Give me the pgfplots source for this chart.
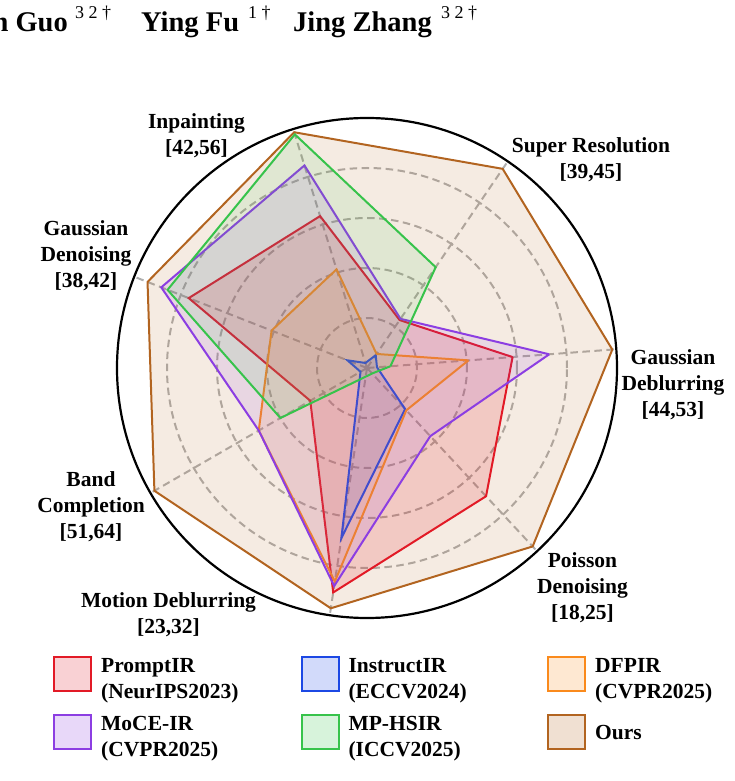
\documentclass[border=0pt]{standalone}
\usepackage{fontspec}
\setmainfont{Liberation Serif}
\usepackage{pgfplots}
\pgfplotsset{compat=1.18}
\usepgfplotslibrary{polar}
\definecolor{cRed}{RGB}{226,26,38}
\definecolor{cBlue}{RGB}{28,72,228}
\definecolor{cOrange}{RGB}{250,138,28}
\definecolor{cPurple}{RGB}{140,62,226}
\definecolor{cGreen}{RGB}{55,195,75}
\definecolor{cBrown}{RGB}{178,100,32}
\definecolor{cGrid}{RGB}{175,175,175}
\begin{document}
\begin{tikzpicture}
\useasboundingbox (0,0) rectangle (735bp,781bp);
\begin{polaraxis}[
  at={(367bp,413bp)}, anchor=origin,
  scale only axis, width=500bp, height=500bp,
  ymin=0, ymax=1,
  xtick={4.30,55.73,107.16,158.59,210.01,261.44,312.87},
  xticklabels={},
  ytick={0.2,0.4,0.6,0.8},
  yticklabels={},
  xmajorgrids, ymajorgrids,
  major grid style={cGrid, line width=2bp, dash pattern=on 7.5bp off 4.5bp},
  x axis line style={black, line width=2.2bp},
  y axis line style={draw=none},
  major tick length=0pt,
  clip=false,
]
% Ours
\addplot[draw=cBrown, line width=2bp, line join=miter, fill=cBrown, fill opacity=0.13, mark=none]
  coordinates {(4.30,0.984) (55.73,0.964) (107.16,0.987) (158.59,0.943) (210.01,0.982) (261.44,0.972) (312.87,0.974) (4.30,0.984)};
% PromptIR
\addplot[draw=cRed, line width=2bp, line join=miter, fill=cRed, fill opacity=0.16, mark=none]
  coordinates {(4.30,0.584) (55.73,0.232) (107.16,0.636) (158.59,0.766) (210.01,0.262) (261.44,0.908) (312.87,0.700) (4.30,0.584)};
% InstructIR
\addplot[draw=cBlue, line width=2bp, line join=miter, fill=cBlue, fill opacity=0.13, mark=none]
  coordinates {(4.30,0.040) (55.73,0.062) (107.16,0.021) (158.59,0.084) (210.01,0.030) (261.44,0.688) (312.87,0.224) (4.30,0.040)};
% DFPIR
\addplot[draw=cOrange, line width=2bp, line join=miter, fill=cOrange, fill opacity=0.12, mark=none]
  coordinates {(4.30,0.407) (55.73,0.068) (107.16,0.413) (158.59,0.410) (210.01,0.500) (261.44,0.864) (312.87,0.231) (4.30,0.407)};
% MoCE-IR
\addplot[draw=cPurple, line width=2bp, line join=miter, fill=cPurple, fill opacity=0.12, mark=none]
  coordinates {(4.30,0.731) (55.73,0.238) (107.16,0.848) (158.59,0.884) (210.01,0.500) (261.44,0.882) (312.87,0.372) (4.30,0.731)};
% MP-HSIR
\addplot[draw=cGreen, line width=2bp, line join=miter, fill=cGreen, fill opacity=0.11, mark=none]
  coordinates {(4.30,0.094) (55.73,0.488) (107.16,0.978) (158.59,0.857) (210.01,0.400) (261.44,0.035) (312.87,0.030) (4.30,0.094)};
\end{polaraxis}

% header
\begin{scope}[font=\fontsize{28.5bp}{32bp}\selectfont\bfseries, inner sep=0pt]
\node[anchor=base east] at (68bp,749bp) {n Guo};
\node[anchor=base west] at (141bp,749bp) {Ying Fu};
\node[anchor=base west] at (293bp,749bp) {Jing Zhang};
\end{scope}
\begin{scope}[font=\fontsize{18bp}{20bp}\selectfont, inner sep=0pt]
\node[anchor=base west] at (75bp,762bp) {3 2 \textdagger};
\node[anchor=base west] at (248bp,762bp) {1 \textdagger};
\node[anchor=base west] at (441bp,762bp) {3 2 \textdagger};
\end{scope}

% axis labels
\begin{scope}[font=\fontsize{21.5bp}{26bp}\selectfont\bfseries, inner sep=0pt]
\node[anchor=base] at (196.5bp,652.7bp) {Inpainting};
\node[anchor=base] at (196.5bp,626.7bp) {[42,56]};
\node[anchor=base] at (591bp,628.7bp) {Super Resolution};
\node[anchor=base] at (591bp,602.7bp) {[39,45]};
\node[anchor=base] at (673bp,416bp) {Gaussian};
\node[anchor=base] at (673bp,390bp) {Deblurring};
\node[anchor=base] at (673bp,364bp) {[44,53]};
\node[anchor=base] at (582.5bp,213.5bp) {Poisson};
\node[anchor=base] at (582.5bp,187.5bp) {Denoising};
\node[anchor=base] at (582.5bp,161.5bp) {[18,25]};
\node[anchor=base] at (168.5bp,173.3bp) {Motion Deblurring};
\node[anchor=base] at (168.5bp,147.7bp) {[23,32]};
\node[anchor=base] at (91bp,294.3bp) {Band};
\node[anchor=base] at (91bp,268.3bp) {Completion};
\node[anchor=base] at (91bp,242.7bp) {[51,64]};
\node[anchor=base] at (86bp,545bp) {Gaussian};
\node[anchor=base] at (86bp,519bp) {Denoising};
\node[anchor=base] at (86bp,493bp) {[38,42]};

% legend
\foreach \c/\x/\y in {cRed/54/90.3, cBlue/301.7/90.3, cOrange/548.3/90.3, cPurple/54/32, cGreen/301.7/32, cBrown/548.3/32}{
  \draw[draw=\c, line width=1.8bp, fill=\c!20] (\x bp,\y bp) rectangle ++(37bp,34bp);
}
\node[anchor=base west] at (101bp,108.3bp) {PromptIR};
\node[anchor=base west] at (101bp,82.7bp) {(NeurIPS2023)};
\node[anchor=base west] at (348.3bp,108.3bp) {InstructIR};
\node[anchor=base west] at (348.3bp,82.7bp) {(ECCV2024)};
\node[anchor=base west] at (595bp,108.3bp) {DFPIR};
\node[anchor=base west] at (595bp,82.7bp) {(CVPR2025)};
\node[anchor=base west] at (101bp,50.3bp) {MoCE-IR};
\node[anchor=base west] at (101bp,24.3bp) {(CVPR2025)};
\node[anchor=base west] at (348.3bp,50.3bp) {MP-HSIR};
\node[anchor=base west] at (348.3bp,24.3bp) {(ICCV2025)};
\node[anchor=base west] at (595bp,41bp) {Ours};
\end{scope}
\end{tikzpicture}
\end{document}
